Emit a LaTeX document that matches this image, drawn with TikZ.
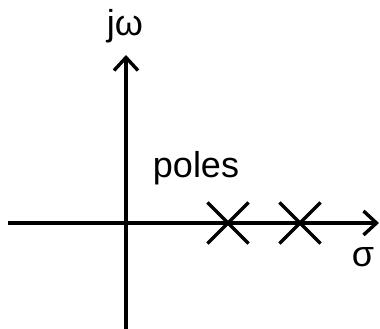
\documentclass[tikz,border=0pt]{standalone}
\usepackage{fontspec}
\setmainfont{Liberation Sans}
\usetikzlibrary{arrows.meta,positioning,shapes.misc}

\begin{document}
\begin{tikzpicture}[x=1pt, y=1pt,
        axis/.style={line width=3.4pt, -{Straight Barb[length=13pt, width=24pt, line width=3.4pt]}},
        pole/.style={cross out, draw, line width=3.2pt, minimum size=38pt, inner sep=0pt},
        lbl/.style={font=\fontsize{36}{40}\selectfont}
      ]
        \useasboundingbox (0,0) rectangle (380,329);

        % axes
        \coordinate (xleft)  at (8,106);
        \coordinate (xright) at (379,106);
        \coordinate (ybot)   at (126,0);
        \coordinate (ytop)   at (126,274);
        \draw[axis] (xleft) -- (xright);
        \draw[axis] (ybot) -- (ytop);

        % poles on the real axis
        \node[pole] (p1) at (228,106) {};
        \node[pole] (p2) at (300,106) {};

        \node[lbl] (jw)    at (125,303) {jω};
        \node[lbl] (sigma) at (363,72)  {σ};
        \node[lbl] (poles) at (196,161) {poles};
      \end{tikzpicture}
\end{document}
